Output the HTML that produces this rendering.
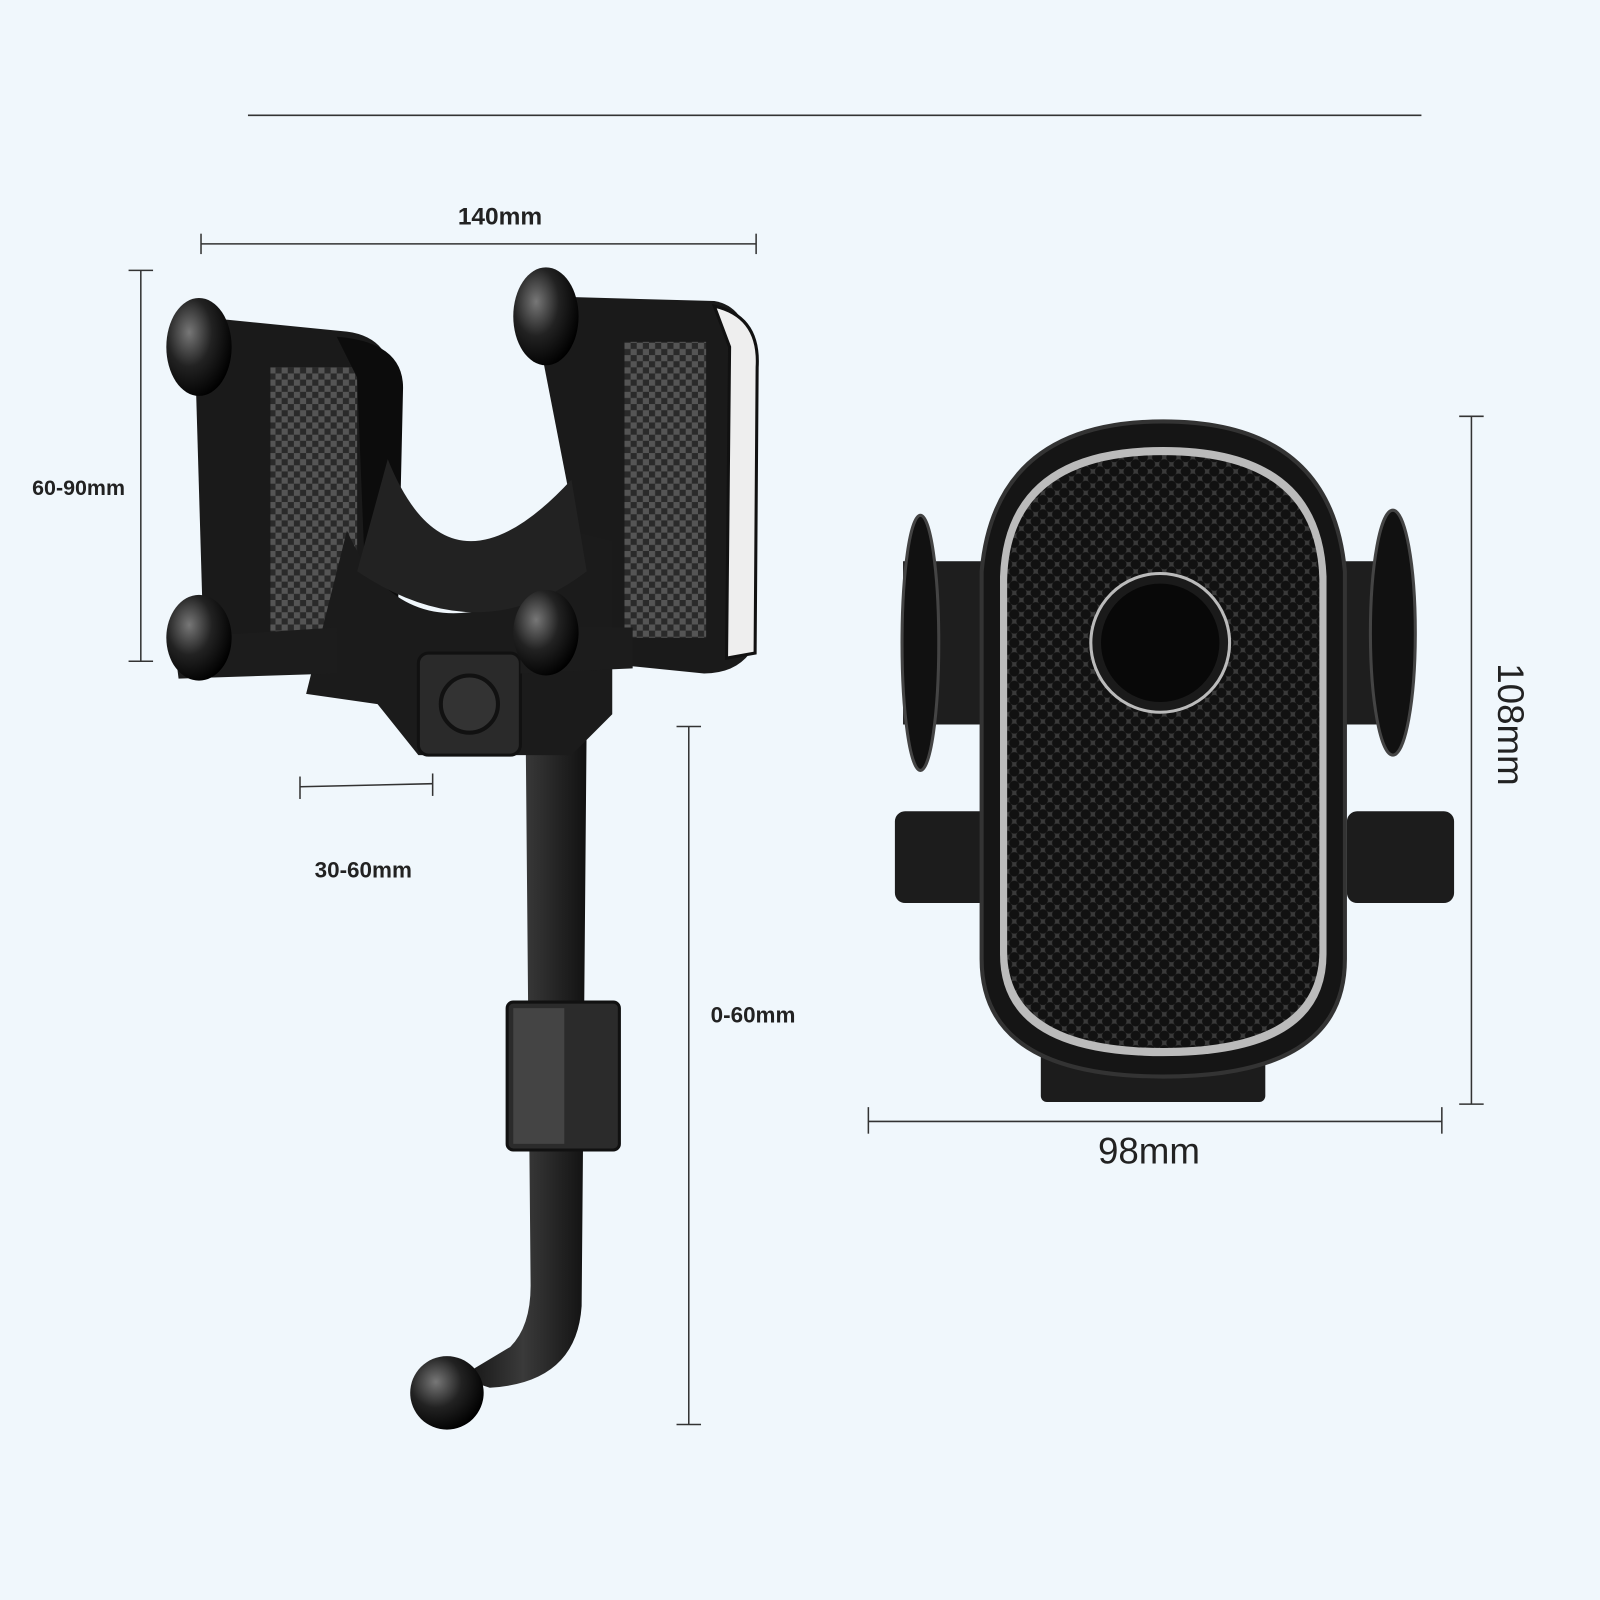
<!DOCTYPE html>
<html><head><meta charset="utf-8"><style>
html,body{margin:0;padding:0;background:#f0f7fc;}
svg{display:block;}
text{font-family:"Liberation Sans",sans-serif;fill:#222;}
</style></head><body>
<svg width="1600" height="1600" viewBox="0 0 1568 1568" xmlns="http://www.w3.org/2000/svg">
<defs>
<pattern id="chk" width="12" height="12" patternUnits="userSpaceOnUse">
<rect width="12" height="12" fill="#2a2a2a"/><rect width="6" height="6" fill="#555"/><rect x="6" y="6" width="6" height="6" fill="#555"/>
</pattern>
<pattern id="dots" width="14" height="14" patternUnits="userSpaceOnUse">
<rect width="14" height="14" fill="#3a3a3a"/><circle cx="7" cy="7" r="5" fill="#111"/><circle cx="0" cy="0" r="5" fill="#111"/><circle cx="14" cy="0" r="5" fill="#111"/><circle cx="0" cy="14" r="5" fill="#111"/><circle cx="14" cy="14" r="5" fill="#111"/>
</pattern>
<radialGradient id="ball" cx="35%" cy="35%" r="70%"><stop offset="0" stop-color="#777"/><stop offset="0.5" stop-color="#222"/><stop offset="1" stop-color="#000"/></radialGradient>
<linearGradient id="arm" x1="0" x2="1"><stop offset="0" stop-color="#111"/><stop offset="0.5" stop-color="#3a3a3a"/><stop offset="1" stop-color="#111"/></linearGradient>
</defs>
<rect width="1568" height="1568" fill="#f0f7fc"/>
<line x1="243" y1="113" x2="1393" y2="113" stroke="#333" stroke-width="1.5"/>
<g stroke="#333" stroke-width="1.5" fill="none">
<line x1="197" y1="239" x2="741" y2="239"/><line x1="197" y1="229" x2="197" y2="249"/><line x1="741" y1="229" x2="741" y2="249"/>
<line x1="138" y1="265" x2="138" y2="648"/><line x1="126" y1="265" x2="150" y2="265"/><line x1="126" y1="648" x2="150" y2="648"/>
<line x1="294" y1="771" x2="424" y2="768"/><line x1="294" y1="761" x2="294" y2="783"/><line x1="424" y1="758" x2="424" y2="780"/>
<line x1="675" y1="712" x2="675" y2="1396"/><line x1="663" y1="712" x2="687" y2="712"/><line x1="663" y1="1396" x2="687" y2="1396"/>
<line x1="851" y1="1099" x2="1413" y2="1099"/><line x1="851" y1="1085" x2="851" y2="1111"/><line x1="1413" y1="1085" x2="1413" y2="1111"/>
<line x1="1442" y1="408" x2="1442" y2="1082"/><line x1="1430" y1="408" x2="1454" y2="408"/><line x1="1430" y1="1082" x2="1454" y2="1082"/>
</g>
<text x="490" y="220" font-size="24" text-anchor="middle" font-weight="bold">140mm</text>
<text x="77" y="485" font-size="21" text-anchor="middle" font-weight="bold">60-90mm</text>
<text x="356" y="860" font-size="22" text-anchor="middle" font-weight="bold">30-60mm</text>
<text x="738" y="1002" font-size="22" text-anchor="middle" font-weight="bold">0-60mm</text>
<text x="1126" y="1140" font-size="36" text-anchor="middle">98mm</text>
<text x="0" y="0" font-size="36" transform="translate(1468,650) rotate(90)">108mm</text>

<path d="M515 700 L575 700 L570 1280 Q565 1355 480 1360 L450 1350 L500 1320 Q520 1300 520 1260 Z" fill="url(#arm)"/>
<rect x="497" y="982" width="110" height="145" rx="6" fill="#2b2b2b" stroke="#111" stroke-width="3"/>
<rect x="503" y="988" width="50" height="133" fill="#444"/>
<circle cx="438" cy="1365" r="36" fill="url(#ball)"/>
<path d="M190 310 L340 325 Q380 330 385 370 L385 640 L340 660 L200 650 Z" fill="#1a1a1a"/>
<rect x="265" y="360" width="85" height="265" fill="url(#chk)"/>
<path d="M330 330 Q395 335 395 380 L390 600 L360 620 L350 370 Z" fill="#0c0c0c"/>
<path d="M520 290 L700 295 Q730 300 735 340 L735 640 Q720 660 690 660 L590 650 Z" fill="#1a1a1a"/>
<rect x="612" y="335" width="80" height="290" fill="url(#chk)"/>
<path d="M700 300 Q745 310 742 360 L740 640 L712 645 L715 340 Z" fill="#eee" stroke="#111" stroke-width="3"/>
<path d="M340 520 Q380 610 460 600 Q570 590 560 520 L600 530 L600 700 L560 740 L410 740 L370 690 L300 680 Z" fill="#1b1b1b"/>
<path d="M380 450 Q440 600 560 470 L575 560 Q470 640 350 560 Z" fill="#222"/>
<rect x="410" y="640" width="100" height="100" rx="10" fill="#2a2a2a" stroke="#111" stroke-width="3"/>
<circle cx="460" cy="690" r="28" fill="#333" stroke="#111" stroke-width="4"/>
<path d="M170 625 L330 615 L330 660 L175 665 Z" fill="#1c1c1c"/>
<path d="M510 615 L620 615 L620 655 L510 660 Z" fill="#1c1c1c"/>
<g fill="url(#ball)">
<ellipse cx="195" cy="340" rx="32" ry="48"/><ellipse cx="535" cy="310" rx="32" ry="48"/>
<ellipse cx="195" cy="625" rx="32" ry="42"/><ellipse cx="535" cy="620" rx="32" ry="42"/>
</g>

<rect x="885" y="550" width="80" height="160" fill="#1e1e1e"/>
<rect x="1300" y="550" width="80" height="160" fill="#1e1e1e"/>
<ellipse cx="902" cy="630" rx="18" ry="125" fill="#111" stroke="#444" stroke-width="3"/>
<ellipse cx="1365" cy="620" rx="22" ry="120" fill="#111" stroke="#444" stroke-width="3"/>
<rect x="877" y="795" width="105" height="90" rx="10" fill="#1c1c1c"/>
<rect x="1320" y="795" width="105" height="90" rx="10" fill="#1c1c1c"/>
<rect x="1020" y="1030" width="220" height="50" rx="6" fill="#1c1c1c"/>
<path d="M1140 413 Q1305 413 1318 560 L1318 940 Q1318 1055 1140 1055 Q962 1055 962 940 L962 560 Q975 413 1140 413 Z" fill="#151515" stroke="#333" stroke-width="4"/>
<path d="M1140 438 Q1295 438 1300 565 L1300 935 Q1300 1035 1140 1035 Q980 1035 980 935 L980 565 Q985 438 1140 438 Z" fill="#bbb"/>
<path d="M1140 446 Q1290 446 1293 568 L1293 932 Q1293 1027 1140 1027 Q987 1027 987 932 L987 568 Q990 446 1140 446 Z" fill="url(#dots)"/>
<circle cx="1137" cy="630" r="68" fill="#1a1a1a" stroke="#bbb" stroke-width="3"/>
<circle cx="1137" cy="630" r="58" fill="#080808"/>
</svg>
</body></html>
